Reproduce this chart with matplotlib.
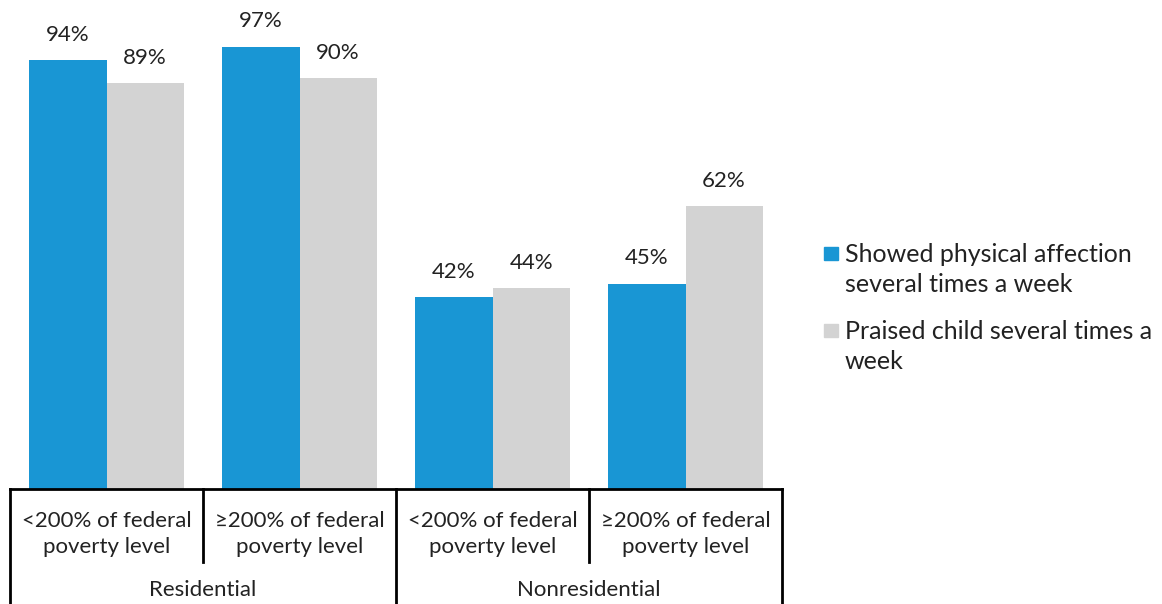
import matplotlib.pyplot as plt
from matplotlib.patches import Rectangle
import numpy as np

plt.rcParams['font.family'] = ['Lato', 'DejaVu Sans']

# Données
groupes = ["<200% of federal\npoverty level", "≥200% of federal\npoverty level",
           "<200% of federal\npoverty level", "≥200% of federal\npoverty level"]
types = ["Residential", "Nonresidential"]
affection = [94, 97, 42, 45]
eloge = [89, 90, 44, 62]
series = ["Showed physical affection\nseveral times a week",
          "Praised child several times a\nweek"]

BLEU = "#1996d4"
GRIS = "#d3d3d3"
TEXTE = "#222222"

W, H = 1162, 604
fig = plt.figure(figsize=(W / 100, H / 100), dpi=100)
ax = fig.add_axes([10 / W, 1 - 489 / H, 772 / W, 489 / H])

x = np.arange(len(groupes))
b1 = ax.bar(x - 0.2, affection, width=0.4, color=BLEU)
b2 = ax.bar(x + 0.2, eloge, width=0.4, color=GRIS)

for bars in (b1, b2):
    for r in bars:
        ax.annotate(f"{r.get_height():.0f}%", (r.get_x() + r.get_width() / 2, r.get_height()),
                    xytext=(0, 11), textcoords="offset points", ha="center", va="bottom",
                    fontsize=16, color=TEXTE)

ax.set_xlim(-0.5, 3.5)
ax.set_ylim(0, 107.2)
ax.set_xticks([])
ax.set_yticks([])
for s in ["top", "right", "left"]:
    ax.spines[s].set_visible(False)
ax.spines["bottom"].set_linewidth(2)
ax.spines["bottom"].set_color("black")

# Tableau des catégories sous l'axe
tr = ax.get_xaxis_transform()
px = 1 / 489  # un pixel en coordonnées d'axes (vertical)
for xb in [-0.5, 1.5, 3.5]:
    ax.plot([xb, xb], [0, -115 * px], transform=tr, color="black", lw=2, clip_on=False)
for xb in [0.5, 2.5]:
    ax.plot([xb, xb], [0, -73 * px], transform=tr, color="black", lw=2, clip_on=False)
for i, g in enumerate(groupes):
    ax.text(i, -45 * px, g, transform=tr, ha="center", va="center", fontsize=16,
            color=TEXTE, linespacing=1.4)
for j, t in enumerate(types):
    ax.text(0.5 + 2 * j, -101 * px, t, transform=tr, ha="center", va="center",
            fontsize=16, color=TEXTE)

# Légende (faite à la main pour aligner le carré sur la première ligne)
couleurs = [BLEU, GRIS]
for k, (lab, c) in enumerate(zip(series, couleurs)):
    y0 = 247 + k * 77
    fig.patches.append(Rectangle((824 / W, 1 - (y0 + 13) / H), 14 / W, 13 / H,
                                 transform=fig.transFigure, color=c, figure=fig))
    n = lab.count("\n")
    fig.text(845 / W, 1 - (y0 + 15 + 30 * n) / H, lab, ha="left", va="baseline",
             fontsize=18, color=TEXTE, linespacing=1.38)

fig.savefig("out.png", dpi=100)
